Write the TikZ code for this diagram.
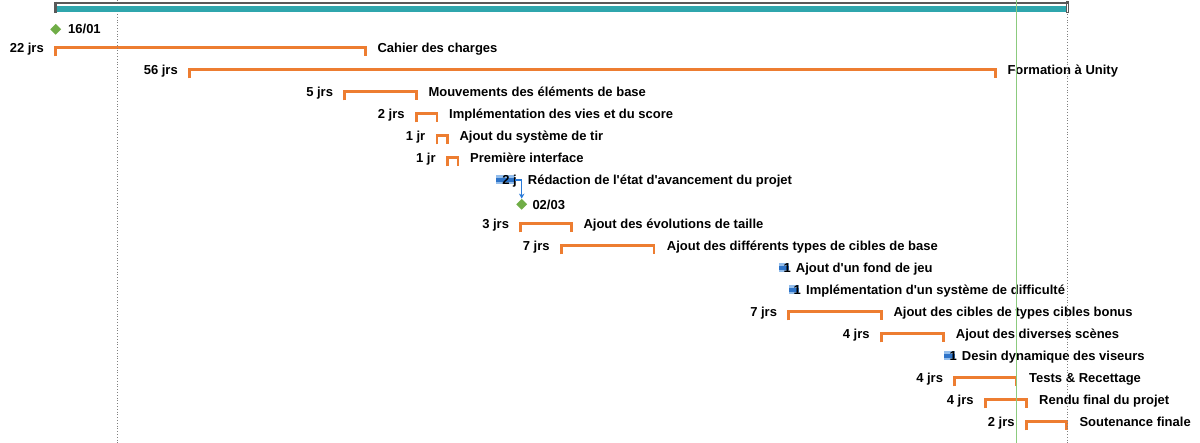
\documentclass[tikz,border=0pt]{standalone}
\usepackage{fontspec}
\setmainfont{Liberation Sans}[Ligatures=TeXOff]
\usetikzlibrary{arrows.meta, shapes.geometric, positioning}
\definecolor{barorange}{HTML}{ED7D31}
\definecolor{topteal}{HTML}{2FA6AD}
\definecolor{topgray}{HTML}{595959}
\definecolor{msgreen}{HTML}{70AD47}
\definecolor{todayline}{HTML}{8CCB7E}
\definecolor{barlight}{HTML}{93BDEB}
\definecolor{bardark}{HTML}{2E74C9}
\definecolor{linkblue}{HTML}{2A7AD8}
\tikzset{
  bracket/.style={line width=2.7pt, color=barorange, line join=miter},
  dur/.style={inner sep=0pt, anchor=base east},
  task/.style={inner sep=0pt, anchor=base west},
  milestone/.style={diamond, fill=msgreen, inner sep=0pt, minimum width=11pt, minimum height=11pt},
  link/.style={-{Stealth[length=5pt, width=5.5pt]}, line width=1.1pt, color=linkblue},
  gridline/.style={dotted, line width=0.8pt, color=gray},
  every node/.append style={font=\bfseries\fontsize{13}{15}\selectfont}
}

\begin{document}
\begin{tikzpicture}[x=1pt, y=-1pt]
\useasboundingbox (0,0) rectangle (1200,443);
% milestones
\node[milestone] (ms0) at (55.7,29.3) {};
\node[task] (date0) at (68,33.5) {16/01};
\node[milestone] (ms8) at (521.7,204.3) {};
\node[task] (date8) at (532.3,209.5) {02/03};
% tasks with brackets
\foreach \k/\xa/\xb/\xt/\dur/\txt in {
  1/55.5/365.5/377.3/22 jrs/Cahier des charges,
  2/189.5/995.3/1007.3/56 jrs/Formation à Unity,
  3/344.7/416.3/428.3/5 jrs/Mouvements des éléments de base,
  4/416.3/437/449/2 jrs/Implémentation des vies et du score,
  5/437/447.3/459.3/1 jr/Ajout du système de tir,
  6/447.3/458/470/1 jr/Première interface,
  9/520.7/571.3/583.3/3 jrs/Ajout des évolutions de taille,
  10/561.3/654/666.7/7 jrs/Ajout des différents types de cibles de base,
  13/788.7/881.3/893.3/7 jrs/Ajout des cibles de types cibles bonus,
  14/881.3/943.5/955.7/4 jrs/Ajout des diverses scènes,
  16/954.7/1016/1029/4 jrs/Tests \& Recettage,
  17/985.3/1026.3/1039/4 jrs/Rendu final du projet,
  18/1026.3/1066.5/1079.3/2 jrs/Soutenance finale}
{
  \draw[bracket] (\xa,{34.5+22*\k}) -- (\xa,{25.7+22*\k}) -- (\xb,{25.7+22*\k}) -- (\xb,{34.5+22*\k});
  \node[dur] (dur\k) at (\xa-11.5,{31+22*\k}) {\dur};
  \node[task] (task\k) at (\xt,{31+22*\k}) {\txt};
}
% short tasks
\foreach \k/\xa/\xb/\xt/\dur/\txt in {
  7/496/515/527.7/2 j/Rédaction de l'état d'avancement du projet,
  11/779/789/795.7/1/Ajout d'un fond de jeu,
  12/789/799/806/1/Implémentation d'un système de difficulté,
  15/944.3/955/961.7/1/Desin dynamique des viseurs}
{
  \fill[barlight] (\xa,{21+22*\k}) rectangle (\xb,{30+22*\k});
  \fill[bardark] (\xa,{24.3+22*\k}) rectangle (\xb,{27.7+22*\k});
  \coordinate (bar\k) at (\xb,{26+22*\k});
  \node[dur] (dur\k) at (\xb+2,{31+22*\k}) {\dur};
  \node[task] (task\k) at (\xt,{31+22*\k}) {\txt};
}
\draw[link] (bar7) -| (ms8.north);
% grid
\draw[gridline] (117,0) -- (117,443);
\draw[gridline] (1067.3,14) -- (1067.3,443);
% summary bar
\fill[topteal] (56,6) rectangle (1066,12);
\draw[topgray, line width=2.3pt] (54,2.8) -- (1069,2.8);
\draw[topgray, line width=2.7pt] (55.3,1.7) -- (55.3,12.7);
\draw[topgray, line width=0.9pt] (1066.3,1.7) rectangle (1068.7,12.7);
% status date
\draw[todayline, line width=1pt] (1016,0) -- (1016,443);
\end{tikzpicture}
\end{document}
